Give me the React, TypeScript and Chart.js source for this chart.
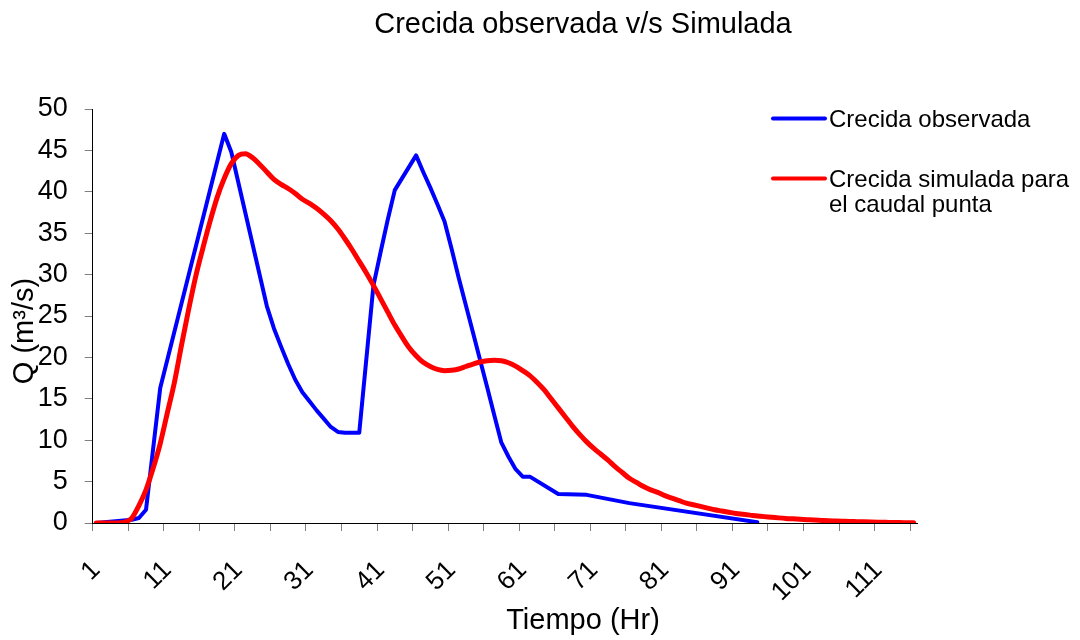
import { useEffect, useRef } from "react";
import { Chart, registerables } from "chart.js";

Chart.register(...registerables);

// Categories: hours 1..116
const HOURS: string[] = Array.from({ length: 116 }, (_, i) => String(i + 1));
const TICK_LABELS = ["1", "11", "21", "31", "41", "51", "61", "71", "81", "91", "101", "111"];

const TITLE = "Crecida observada v/s Simulada";
const X_TITLE = "Tiempo (Hr)";
const Y_TITLE = "Q (m³/s)";
const OBS_NAME = "Crecida observada";
const SIM_NAME_LINES = ["Crecida simulada para", "el caudal punta"];

const OBS_HOURS = [1, 6, 7, 8, 10, 19, 20, 25, 26, 27, 28, 29, 30, 31, 32, 33, 34, 35, 36, 37, 38, 39, 40, 41, 42, 43, 46, 47, 48, 49, 50, 51, 52, 53, 54, 55, 56, 57, 58, 59, 60, 61, 62, 66, 70, 76, 94];
const OBS_Q = [0, 0.4, 0.6, 1.6, 16.3, 47.0, 44.8, 26.2, 23.5, 21.3, 19.2, 17.3, 15.8, 14.7, 13.6, 12.6, 11.6, 11.0, 10.9, 10.9, 10.9, 19.8, 28.7, 32.7, 36.6, 40.2, 44.4, 42.4, 40.5, 38.5, 36.4, 33.1, 29.6, 26.3, 23.0, 19.7, 16.4, 13.0, 9.7, 8.0, 6.5, 5.6, 5.6, 3.5, 3.4, 2.4, 0.1];

// Simulated hydrograph, one value per hour 1..116
const SIM_Q = [
  0, 0, 0, 0, 0.1, 0.6, 2.1, 4.0, 6.6, 9.6,
  13.3, 17.0, 21.5, 25.8, 29.8, 33.2, 36.4, 39.3, 41.6, 43.4,
  44.4, 44.6, 44.1, 43.3, 42.4, 41.5, 40.9, 40.4, 39.8, 39.1,
  38.6, 38.0, 37.3, 36.5, 35.5, 34.3, 33.0, 31.6, 30.2, 28.7,
  27.1, 25.5, 23.9, 22.5, 21.2, 20.2, 19.4, 18.9, 18.55, 18.4,
  18.45, 18.6, 18.9, 19.2, 19.45, 19.6, 19.65, 19.6, 19.35, 18.95,
  18.4, 17.8, 17.0, 16.1, 15.0, 13.9, 12.8, 11.7, 10.7, 9.8,
  9.0, 8.3, 7.6, 6.8, 6.1, 5.4, 4.9, 4.4, 4.0, 3.7,
  3.3, 3.0, 2.7, 2.4, 2.2, 2.0, 1.8, 1.6, 1.45, 1.3,
  1.15, 1.05, 0.95, 0.85, 0.77, 0.7, 0.62, 0.55, 0.5, 0.45,
  0.4, 0.35, 0.31, 0.27, 0.24, 0.21, 0.18, 0.16, 0.14, 0.12,
  0.1, 0.08, 0.07, 0.05, 0.04, 0.03,
];

const FONT = '"Liberation Sans", Arial, Helvetica, sans-serif';
const BLUE = "#0000FF";
const RED = "#FF0000";

const textPlugin = {
  id: "customTexts",
  afterDraw(chart: any) {
    const ctx = chart.ctx as CanvasRenderingContext2D;
    ctx.save();
    ctx.fillStyle = "#000";
    ctx.textBaseline = "alphabetic";

    // Title
    ctx.font = `29px ${FONT}`;
    ctx.textAlign = "center";
    ctx.fillText(TITLE, 583, 33);

    // X axis title
    ctx.fillText(X_TITLE, 583, 629);

    // Y axis title
    ctx.save();
    ctx.translate(32.5, 331);
    ctx.rotate(-Math.PI / 2);
    ctx.fillText(Y_TITLE, 0, 0);
    ctx.restore();

    // Legend
    ctx.lineCap = "round";
    ctx.lineWidth = 4;
    ctx.strokeStyle = BLUE;
    ctx.beginPath();
    ctx.moveTo(773, 118.5);
    ctx.lineTo(825, 118.5);
    ctx.stroke();
    ctx.strokeStyle = RED;
    ctx.beginPath();
    ctx.moveTo(773, 178.5);
    ctx.lineTo(825, 178.5);
    ctx.stroke();

    ctx.font = `24px ${FONT}`;
    ctx.textAlign = "left";
    ctx.fillText(OBS_NAME, 829, 127);
    ctx.fillText(SIM_NAME_LINES[0], 829, 187);
    ctx.fillText(SIM_NAME_LINES[1], 829, 212);
    ctx.restore();
  },
};

export default function App() {
  const canvasRef = useRef<HTMLCanvasElement | null>(null);

  useEffect(() => {
    if (!canvasRef.current) return;
    const obsData: (number | null)[] = HOURS.map(() => null);
    OBS_HOURS.forEach((h, i) => {
      obsData[h - 1] = OBS_Q[i];
    });

    const chart = new Chart(canvasRef.current, {
      type: "line",
      data: {
        labels: HOURS,
        datasets: [
          {
            label: OBS_NAME,
            data: obsData,
            borderColor: BLUE,
            backgroundColor: BLUE,
            borderWidth: 4,
            pointRadius: 0,
            spanGaps: true,
            tension: 0,
            borderJoinStyle: "round",
            borderCapStyle: "round",
            order: 2,
          },
          {
            label: SIM_NAME_LINES.join(" "),
            data: SIM_Q,
            borderColor: RED,
            backgroundColor: RED,
            borderWidth: 5,
            pointRadius: 0,
            cubicInterpolationMode: "monotone",
            borderJoinStyle: "round",
            borderCapStyle: "round",
            order: 1,
          },
        ],
      },
      options: {
        responsive: false,
        animation: false,
        devicePixelRatio: 1,
        events: [],
        layout: { padding: { top: 109, right: 162.8, bottom: 0, left: 0 } },
        plugins: {
          legend: { display: false },
          title: { display: false },
          tooltip: { enabled: false },
        },
        scales: {
          x: {
            type: "category",
            offset: true,
            afterFit: (s: any) => {
              s.height = 117;
            },
            grid: {
              offset: true,
              drawOnChartArea: false,
              drawTicks: true,
              tickLength: 8,
              tickColor: (c: any) =>
                c.index !== undefined && c.index % 5 === 0 ? "#808080" : "rgba(0,0,0,0)",
            },
            border: { display: true, color: "#000", width: 1 },
            ticks: {
              autoSkip: false,
              minRotation: 45,
              maxRotation: 45,
              padding: 24,
              color: "#000",
              font: { family: FONT, size: 26 },
              callback: (_v: any, index: number) =>
                TICK_LABELS.includes(HOURS[index]) ? HOURS[index] : "",
            },
          },
          y: {
            min: 0,
            max: 50,
            afterFit: (s: any) => {
              s.width = 92.7;
            },
            grid: {
              drawOnChartArea: false,
              drawTicks: true,
              tickLength: 8,
              tickColor: "#808080",
            },
            border: { display: true, color: "#000", width: 1 },
            ticks: {
              stepSize: 5,
              padding: 17,
              color: "#000",
              font: { family: FONT, size: 27 },
            },
          },
        },
      },
      plugins: [textPlugin],
    } as any);

    return () => chart.destroy();
  }, []);

  return (
    <div style={{ position: "absolute", left: 0, top: 0, width: 1080, height: 640, background: "#fff" }}>
      <canvas ref={canvasRef} width={1080} height={640} style={{ display: "block" }} />
    </div>
  );
}
